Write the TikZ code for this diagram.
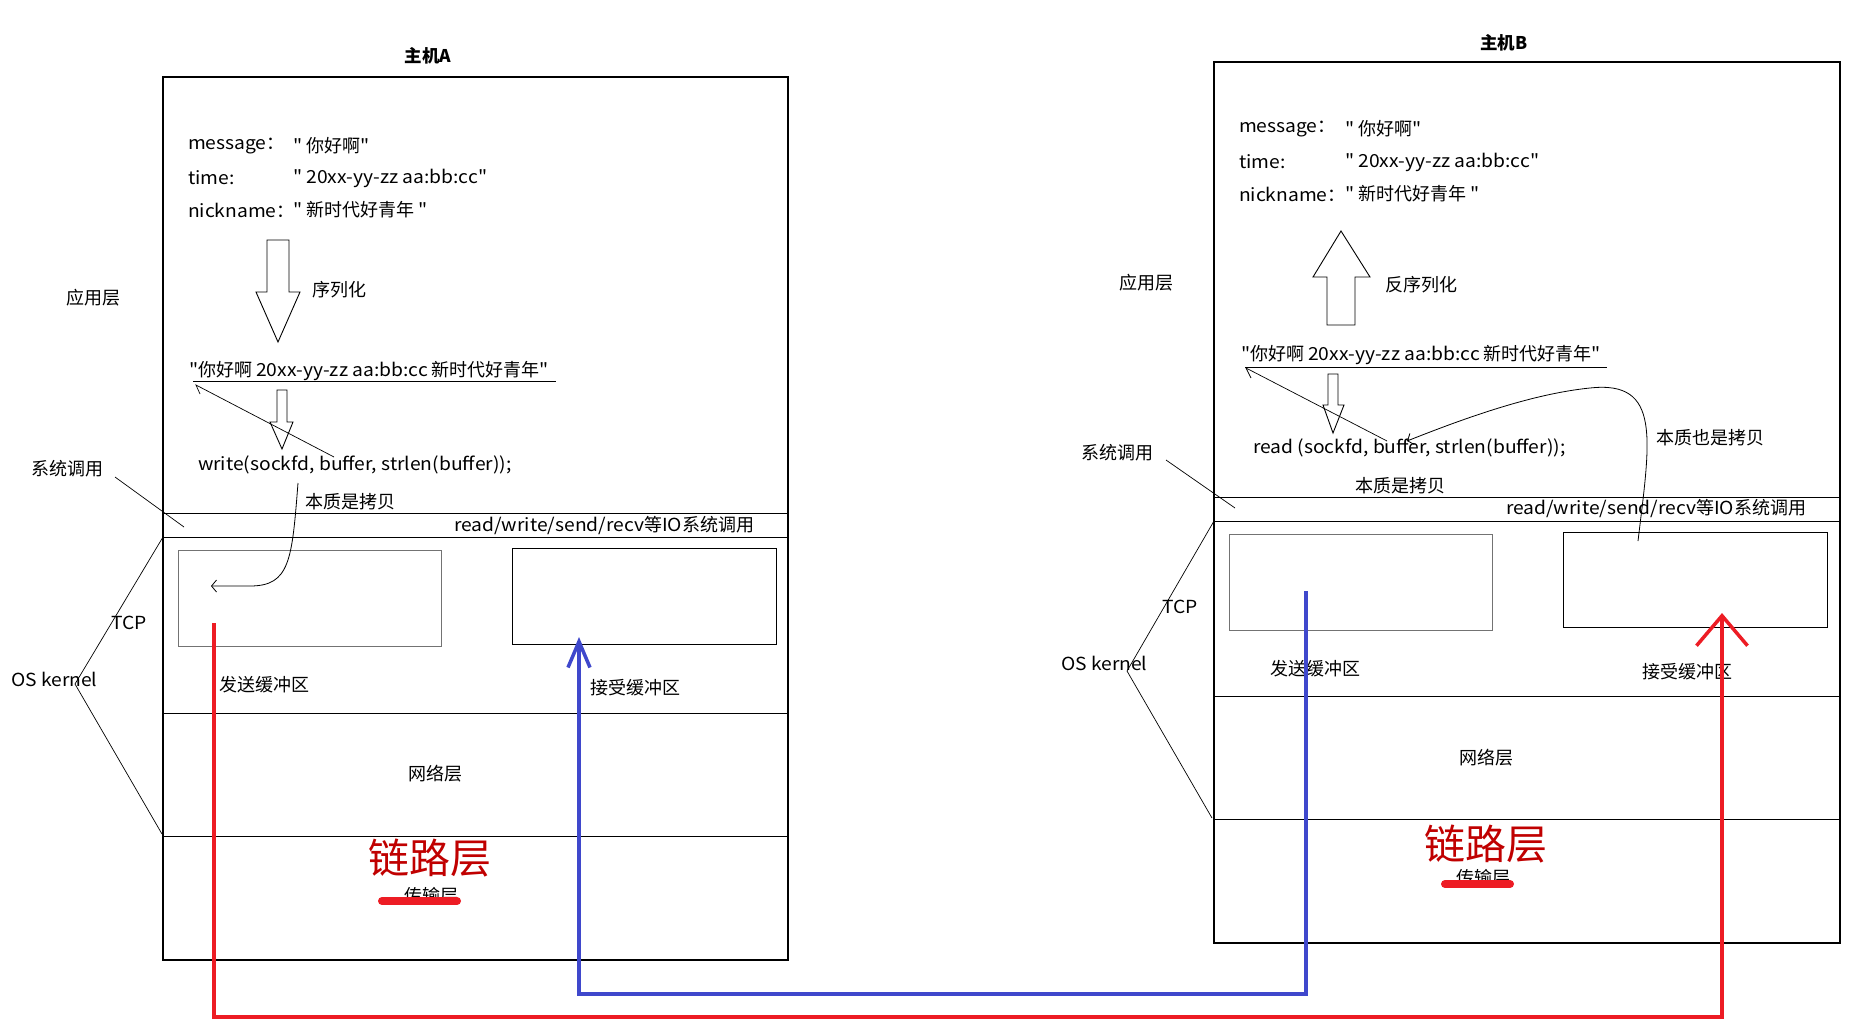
\documentclass[tikz,border=0pt]{standalone}
\usepackage{fontspec}
\newfontfamily\cjkf{Noto Sans CJK SC}
\newfontfamily\latf{Noto Sans CJK SC}[FakeStretch=1.07]
\usetikzlibrary{arrows.meta}
\definecolor{pred}{RGB}{237,28,36}
\definecolor{pblue}{RGB}{63,72,204}
\definecolor{dred}{RGB}{192,0,0}
\begin{document}
\begin{tikzpicture}[x=1pt,y=-1pt,
  every node/.style={inner sep=0pt,outer sep=0pt},
  lbl/.style={font=\cjkf\fontsize{18}{21}\selectfont,anchor=west},
  clbl/.style={font=\cjkf\fontsize{18}{21}\selectfont},
  ttl/.style={font=\cjkf\fontsize{17.5}{20}\selectfont\bfseries},
  big/.style={font=\cjkf\fontsize{41}{45}\selectfont,text=dred},
  frame/.style={draw=black,line width=1.1pt},
  sep/.style={draw=black,line width=1pt},
  gbuf/.style={draw=black!55,line width=0.9pt},
  kbuf/.style={draw=black,line width=0.9pt},
  thinln/.style={draw=black,line width=0.7pt},
  hollow/.style={draw=black,line width=0.9pt},
  blueln/.style={draw=pblue,line width=4pt,-{Straight Barb[length=26pt,width=22pt,line width=3.5pt]}},
  redln/.style={draw=pred,line width=4pt,-{Straight Barb[length=30pt,width=51pt,line width=3.5pt]}},
  strike/.style={draw=pred,line width=8pt,line cap=round},
  cpy/.style={draw=black,line width=0.8pt,-{Straight Barb[length=5pt,width=12pt]}}]
\useasboundingbox (0,0) rectangle (1850,1029);
\fill[white] (0,0) rectangle (1850,1029);

% ================= Host A =================
\node[ttl] (titleA) at (428,56) {主机A};
\draw[frame] (163,77) rectangle (788,960);
\draw[sep] (163,513.5) -- (788,513.5);
\draw[sep] (163,537) -- (788,537);
\draw[sep] (163,713) -- (788,713);
\draw[sep] (163,836) -- (788,836);
\node[lbl] (msgkA) at (188,146) {{\latf message}：};
\node[lbl] (msgvA) at (293,146) {{\latf "} 你好啊{\latf "}};
\node[lbl] (timkA) at (188,178) {\latf time:};
\node[lbl] (timvA) at (293,178) {\latf " 20xx-yy-zz aa:bb:cc"};
\node[lbl] (nickA) at (188,210) {{\latf nickname}：};
\node[lbl] (nicvA) at (293,210) {{\latf "} 新时代好青年 {\latf "}};
\draw[hollow] (267,240) -- (289,240) -- (289,292) -- (300,292) -- (278,342) -- (256,292) -- (267,292) -- cycle;
\node[lbl] (serlA) at (312,290) {序列化};
\node[lbl] (appA) at (66,298) {应用层};
\node[lbl] (strA) at (189,371) {{\latf "}你好啊 {\latf 20xx-yy-zz aa:bb:cc} 新时代好青年{\latf "}};
\draw[thinln] (193,381) -- (556,381);
\draw[hollow] (277,390) -- (287,390) -- (287,422) -- (293,422) -- (282,449) -- (270,422) -- (277,422) -- cycle;
\node[lbl] (writeA) at (198,465) {\latf write(sockfd, buffer, strlen(buffer));};
\draw[thinln] (334,457) -- (196,385) -- (200,394);
\node[lbl] (sysA) at (31,469) {系统调用};
\draw[thinln] (115,477) -- (184,527);
\node[lbl] (essA) at (305,502) {本质是拷贝};
\node[lbl] (ioA) at (454,525) {{\latf read/write/send/recv}等{\latf IO}系统调用};
\draw[gbuf] (178,550) rectangle (441,646);
\draw[kbuf] (512,548) rectangle (776,644);
\coordinate (cpyAs) at (298,483);
\coordinate (cpyAe) at (211,586);
\draw[cpy] (cpyAs) .. controls (292,560) and (290,586) .. (250,586) -- (cpyAe);
\node[lbl] (sendA) at (219,685) {发送缓冲区};
\node[lbl] (recvA) at (590,688) {接受缓冲区};
\node[lbl] (tcpA) at (111,623) {\latf TCP};
\node[lbl] (osA) at (11,679) {\latf OS kernel};
\draw[thinln] (163,537) -- (75,684) -- (162,834);
\node[clbl] (netA) at (435,774) {网络层};
\node[big] (linkA) at (430,858) {链路层};
\node[clbl] (tranA) at (431,896) {传输层};
\draw[strike] (382,901) -- (457,901);

% ================= Host B =================
\node[ttl] (titleB) at (1504,43) {主机B};
\draw[frame] (1214,62) rectangle (1840,943);
\draw[sep] (1214,497.5) -- (1840,497.5);
\draw[sep] (1214,521) -- (1840,521);
\draw[sep] (1214,696) -- (1840,696);
\draw[sep] (1214,819) -- (1840,819);
\node[lbl] (msgkB) at (1239,129) {{\latf message}：};
\node[lbl] (msgvB) at (1345,129) {{\latf "} 你好啊{\latf "}};
\node[lbl] (timkB) at (1239,162) {\latf time:};
\node[lbl] (timvB) at (1345,162) {\latf " 20xx-yy-zz aa:bb:cc"};
\node[lbl] (nickB) at (1239,194) {{\latf nickname}：};
\node[lbl] (nicvB) at (1345,194) {{\latf "} 新时代好青年 {\latf "}};
\draw[hollow] (1341,231) -- (1370,277) -- (1355,277) -- (1355,325) -- (1327,325) -- (1327,277) -- (1313,277) -- cycle;
\node[lbl] (dserB) at (1385,285) {反序列化};
\node[lbl] (appB) at (1119,283) {应用层};
\node[lbl] (strB) at (1241,355) {{\latf "}你好啊 {\latf 20xx-yy-zz aa:bb:cc} 新时代好青年{\latf "}};
\draw[thinln] (1245,367) -- (1607,367);
\draw[hollow] (1328,374) -- (1338,374) -- (1338,405) -- (1344,405) -- (1333,433) -- (1323,405) -- (1328,405) -- cycle;
\node[lbl] (readB) at (1253,448) {\latf read (sockfd, buffer, strlen(buffer));};
\draw[thinln] (1387,441) -- (1246,368) -- (1251,378);
\node[lbl] (sysB) at (1081,453) {系统调用};
\draw[thinln] (1166,460) -- (1235,508);
\node[lbl] (essB) at (1355,486) {本质是拷贝};
\node[lbl] (ess2B) at (1656,438) {本质也是拷贝};
\node[lbl] (ioB) at (1506,508) {{\latf read/write/send/recv}等{\latf IO}系统调用};
\draw[gbuf] (1229,534) rectangle (1492,630);
\draw[kbuf] (1563,532.5) rectangle (1827,627);
\coordinate (cpyBs) at (1638,541);
\coordinate (cpyBe) at (1407,441);
\draw[cpy] (cpyBs) .. controls (1650,440) and (1662,380) .. (1590,388) .. controls (1530,394) and (1460,420) .. (cpyBe);
\node[lbl] (sendB) at (1270,669) {发送缓冲区};
\node[lbl] (recvB) at (1642,672) {接受缓冲区};
\node[lbl] (tcpB) at (1162,607) {\latf TCP};
\node[lbl] (osB) at (1061,663) {\latf OS kernel};
\draw[thinln] (1214,521) -- (1127,671) -- (1212,818);
\node[clbl] (netB) at (1486,758) {网络层};
\node[big] (linkB) at (1486,844) {链路层};
\node[clbl] (tranB) at (1483,878) {传输层};
\draw[strike] (1445,884) -- (1510,884);

% ================= data paths =================
\coordinate (blueS) at (1306,591);
\coordinate (blueE) at (579,637);
\draw[blueln] (blueS) -- ++(0,403) -| (blueE);
\coordinate (redS) at (214,623);
\coordinate (redE) at (1722,613);
\draw[redln] (redS) -- ++(0,394) -| (redE);
\end{tikzpicture}
\end{document}
